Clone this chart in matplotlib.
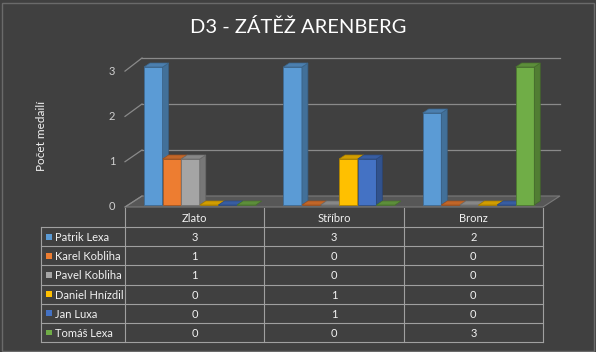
import matplotlib
matplotlib.use("Agg")
import matplotlib.pyplot as plt
from matplotlib.patches import Polygon, Rectangle
import numpy as np

# data
categories = ['Zlato', 'Stříbro', 'Bronz']
names = ['Patrik Lexa', 'Karel Kobliha', 'Pavel Kobliha', 'Daniel Hnízdil', 'Jan Luxa', 'Tomáš Lexa']
values = [
    [3, 3, 2],
    [1, 0, 0],
    [1, 0, 0],
    [0, 1, 0],
    [0, 1, 0],
    [0, 0, 3],
]
colors = ['#5B9BD5', '#ED7D31', '#A5A5A5', '#FFC000', '#4472C4', '#70AD47']
yticks = [0, 1, 2, 3]

plt.rcParams['font.family'] = ['Lato', 'DejaVu Sans']
bg = '#404040'
grid_c = '#8a8a8a'

W, H = 596, 352
fig = plt.figure(figsize=(W / 100, H / 100), dpi=100, facecolor=bg)
fig.patches.append(Rectangle((1.5 / W, 1.5 / H), 1 - 4 / W, 1 - 4 / H, transform=fig.transFigure,
                             fill=False, ec='#6a6a6a', lw=1))

# main (bar front plane) axes, x: category units, y: values
ax = fig.add_axes([125 / W, (H - 205) / H, 418 / W, 138 / H])
ax.set_xlim(0, 3)
ax.set_ylim(0, 3)
ax.axis('off')

px_x = 3 / 418.0   # data units per pixel
px_y = 3 / 138.0
back_dx, back_dy = 17 * px_x, 9 * px_y

# floor
floor = Polygon([(0, -2 * px_y), (3, -2 * px_y), (3 + back_dx, back_dy), (back_dx, back_dy)],
                closed=True, fc='#575757', ec='#7a7a7a', lw=0.8, clip_on=False, zorder=1)
ax.add_patch(floor)

# gridlines on back wall + side wall
for v in yticks:
    yb = v + back_dy
    yf = (v * 45.3 - 2) / 46.0
    if v > 0:
        ax.plot([back_dx, 3 + back_dx], [yb, yb], color=grid_c, lw=0.9, clip_on=False, zorder=1)
    ax.plot([0, back_dx], [yf, yb], color=grid_c, lw=0.9, clip_on=False, zorder=1)
    ax.text(-13 * px_x, yf, str(v), ha='center', va='center', color='#d0d0d0', fontsize=8)

# 3D bars
bw = 18.6 * px_x
dx, dy = 6 * px_x, 4 * px_y


def shade(c, f):
    r, g, b = matplotlib.colors.to_rgb(c)
    return (r * f, g * f, b * f)


for ci in range(len(categories)):
    for si in range(len(names)):
        h = values[si][ci]
        x0 = ci + 19 * px_x + si * bw
        x1 = x0 + bw
        z = 3 + si
        ax.bar(x0, h, width=bw, align='edge', color=colors[si], edgecolor=shade(colors[si], 0.7),
               lw=0.6, clip_on=False, zorder=z)
        ax.add_patch(Polygon([(x1, 0), (x1 + dx, dy), (x1 + dx, h + dy), (x1, h)], closed=True,
                             fc=shade(colors[si], 0.72), ec=shade(colors[si], 0.6), lw=0.5,
                             clip_on=False, zorder=z))
        ax.add_patch(Polygon([(x0, h), (x1, h), (x1 + dx, h + dy), (x0 + dx, h + dy)], closed=True,
                             fc=shade(colors[si], 0.82), ec=shade(colors[si], 0.65), lw=0.5,
                             clip_on=False, zorder=z))

ax.text(-0.6, 1.5, 'Počet medailí', rotation=90, ha='center', va='center',
        color='#f2f2f2', fontsize=8.5, transform=ax.transData)

fig.text(0.5, 1 - 27 / H, 'D3 - ZÁTĚŽ ARENBERG', ha='center', va='center',
         color='#ffffff', fontsize=14.5)

# data table
lab_w = 84 / 139.33
tax = fig.add_axes([41 / W, (H - 342) / H, 502 / W, 134 / H])
tax.set_xlim(-lab_w, 3)
tax.set_ylim(len(names) + 1, 0)
tax.axis('off')
tc = '#a0a0a0'
for c in range(len(categories) + 1):
    tax.plot([c, c], [0, len(names) + 1], color=tc, lw=0.8, clip_on=False)
tax.plot([-lab_w, -lab_w], [1, len(names) + 1], color=tc, lw=0.8, clip_on=False)
for r in range(1, len(names) + 2):
    tax.plot([-lab_w, 3], [r, r], color=tc, lw=0.8, clip_on=False)

for ci, cat in enumerate(categories):
    tax.text(ci + 0.5, 0.55, cat, ha='center', va='center', color='#f2f2f2', fontsize=8)
for si, name in enumerate(names):
    tax.add_patch(Rectangle((-lab_w + 5 / 139.33, si + 1.5 - 0.15), 5.5 / 139.33, 0.3,
                            fc=colors[si], ec='none'))
    tax.text(-lab_w + 13.5 / 139.33, si + 1.55, name, ha='left', va='center',
             color='#f2f2f2', fontsize=8)
    for ci in range(len(categories)):
        tax.text(ci + 0.5, si + 1.55, str(values[si][ci]), ha='center', va='center',
                 color='#f2f2f2', fontsize=8)

fig.savefig('out.png', dpi=100, facecolor=bg)
